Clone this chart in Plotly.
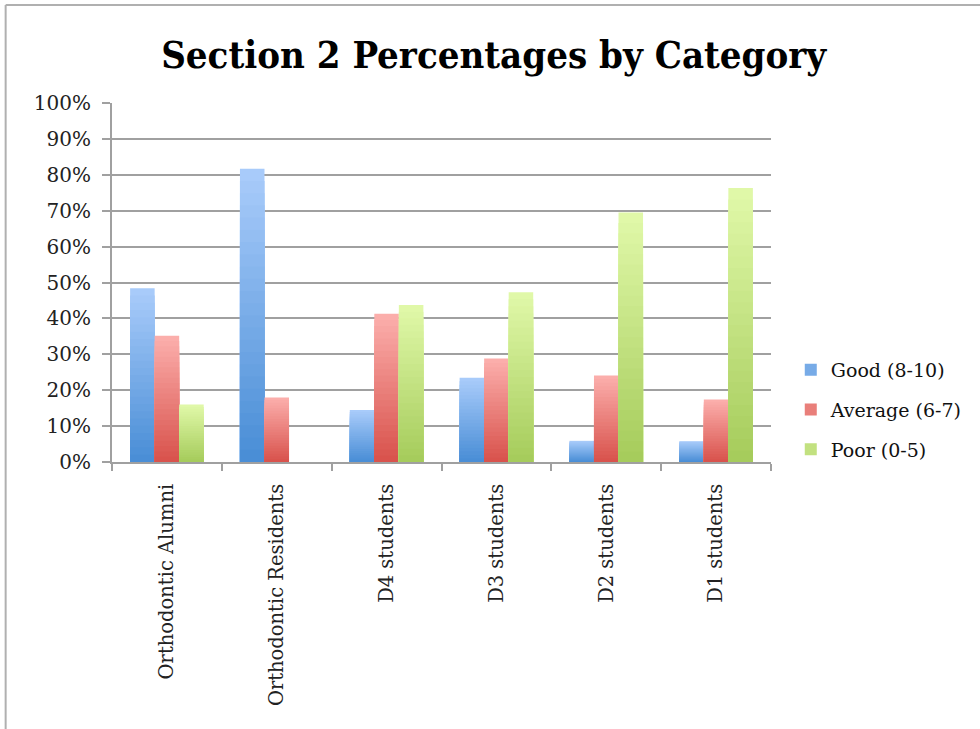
import plotly.graph_objects as go

categories = ["Orthodontic Alumni", "Orthodontic Residents", "D4 students",
              "D3 students", "D2 students", "D1 students"]
good = [48.4, 81.7, 14.5, 23.5, 5.9, 5.8]
average = [35.2, 18.0, 41.3, 28.8, 24.1, 17.4]
poor = [16.0, 0.0, 43.7, 47.3, 69.5, 76.3]
series_names = ["Good (8-10)", "Average (6-7)", "Poor (0-5)"]
y_ticks = [0, 10, 20, 30, 40, 50, 60, 70, 80, 90, 100]
y_tick_labels = [f"{t}%" for t in y_ticks]

# gradient colours: (top, bottom)
grad = [((168, 203, 250), (74, 142, 214)),
        ((251, 174, 171), (217, 83, 77)),
        ((224, 248, 168), (166, 204, 92))]

SERIF = "DejaVu Serif"
N = 24

def mix(a, b, t):
    return "rgb(%d,%d,%d)" % tuple(round(a[i] + (b[i] - a[i]) * t) for i in range(3))

fig = go.Figure()
for s, (name, vals) in enumerate(zip(series_names, [good, average, poor])):
    top, bot = grad[s]
    # overlapping bars from full height (lightest) down to short (darkest)
    for k in range(N):
        frac = (N - k) / N
        t = (N - 1 - k) / (N - 1)
        fig.add_trace(go.Bar(
            x=categories,
            y=[v * frac for v in vals],
            offsetgroup=str(s),
            legendgroup=str(s),
            name=name,
            showlegend=(k == N // 2),
            marker=dict(color=mix(bot, top, t), line=dict(width=0)),
            hoverinfo="skip",
        ))

W, H = 980, 729
L, R, T, B = 112, 205, 103, 267
pw, ph = W - L - R, H - T - B

fig.update_layout(
    width=W, height=H,
    margin=dict(l=L, r=R, t=T, b=B),
    paper_bgcolor="white", plot_bgcolor="white",
    barmode="group", bargap=0.33, bargroupgap=0.0,
    title=dict(text="<b>Section 2 Percentages by Category</b>",
               x=(496 - L) / pw, xref="paper", xanchor="center",
               y=1 - 55 / H, yanchor="middle",
               font=dict(family="DejaVu Serif Condensed, DejaVu Serif", size=38, color="black")),
    font=dict(family=SERIF, size=20, color="#222"),
    legend=dict(x=1.03, xanchor="left", y=(462 - 410) / ph, yanchor="middle",
                font=dict(family=SERIF, size=19, color="#111"),
                tracegroupgap=12, bgcolor="rgba(0,0,0,0)"),
    showlegend=True,
)
fig.update_xaxes(
    type="category", showgrid=False, showline=True, linecolor="#a0a0a0", linewidth=2,
    ticks="outside", tickson="boundaries", ticklen=7, tickcolor="#a0a0a0", tickwidth=1.5,
    tickangle=-90, tickfont=dict(family=SERIF, size=19.5, color="#222"),
    ticklabelstandoff=12,
)
fig.update_yaxes(
    range=[0, 100], tickvals=y_ticks, ticktext=y_tick_labels,
    showgrid=True, gridcolor="#a0a0a0", gridwidth=2,
    showline=True, linecolor="#a0a0a0", linewidth=2,
    ticks="outside", ticklen=8, tickcolor="#a0a0a0", tickwidth=1.5,
    tickfont=dict(family=SERIF, size=20, color="#222"), zeroline=False,
    ticklabelstandoff=7,
)

# outer frame (top and left edges visible in the reference)
fx0 = (5 - L) / pw
fy0 = (H - B - 5) / ph
fig.add_shape(type="line", xref="paper", yref="paper", x0=fx0, x1=(W - L) / pw + 0.05,
              y0=fy0, y1=fy0, line=dict(color="#b0b0b0", width=2))
fig.add_shape(type="line", xref="paper", yref="paper", x0=fx0, x1=fx0,
              y0=fy0, y1=-(B + 10) / ph, line=dict(color="#b0b0b0", width=2))

fig.write_html("out.html", config={"displayModeBar": False},
               post_script="document.body.style.margin='0';")
